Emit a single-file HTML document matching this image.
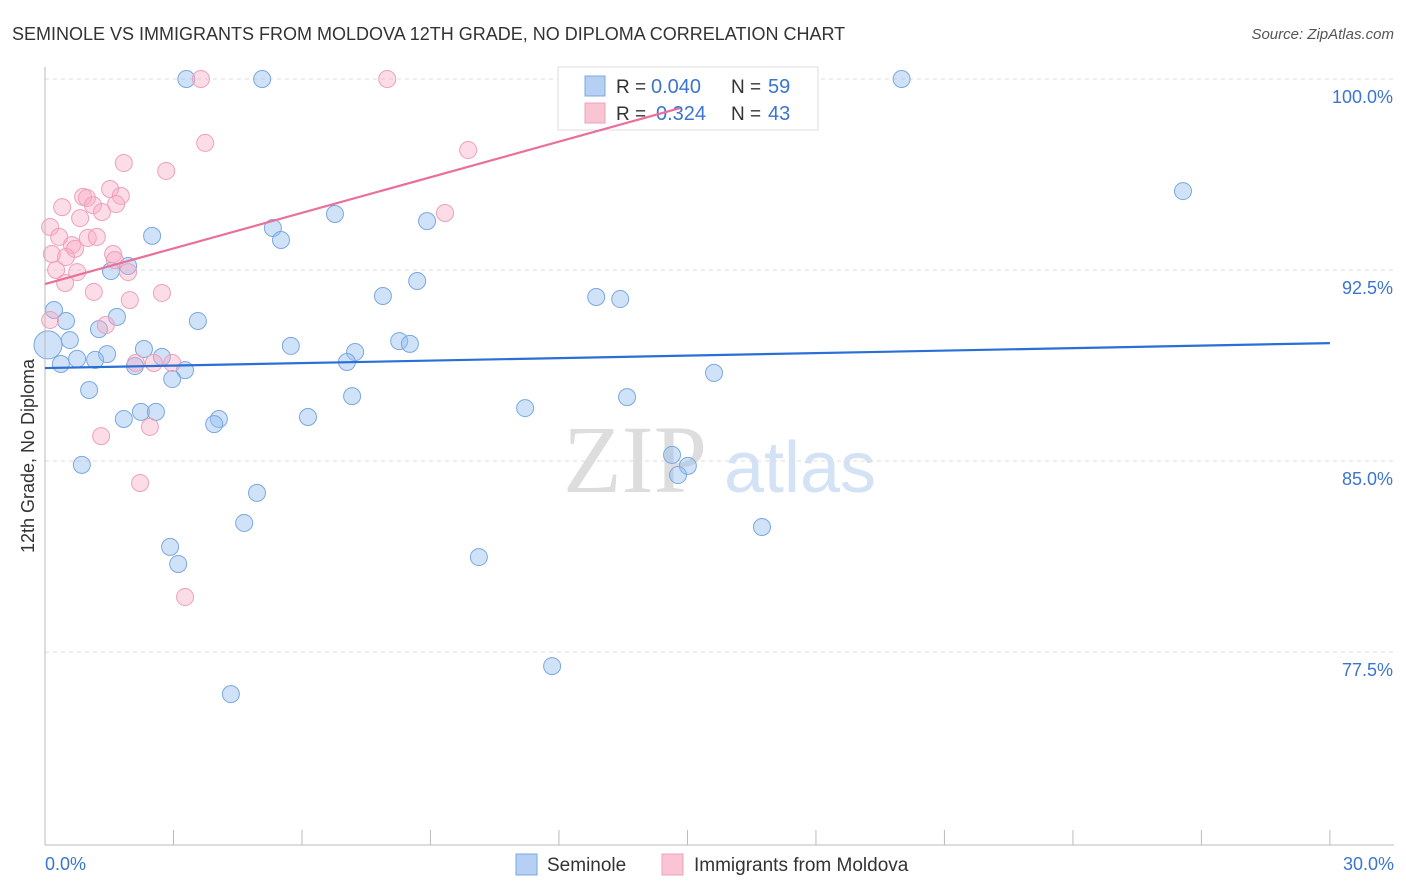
<!DOCTYPE html>
<html><head><meta charset="utf-8"><style>
body{margin:0;background:#fff;font-family:"Liberation Sans",sans-serif;}
#wrap{position:relative;width:1406px;height:892px;overflow:hidden;}
</style></head><body>
<div id="wrap">
<svg id="svg" width="1406" height="892" xmlns="http://www.w3.org/2000/svg">
<text x="12" y="40" font-size="18" fill="#333">SEMINOLE VS IMMIGRANTS FROM MOLDOVA 12TH GRADE, NO DIPLOMA CORRELATION CHART</text>
<text x="1394" y="39" font-size="15" fill="#555" font-style="italic" text-anchor="end">Source: ZipAtlas.com</text>
<text x="34" y="456" font-size="18" fill="#333" text-anchor="middle" transform="rotate(-90 34 456)">12th Grade, No Diploma</text>
<text x="635" y="492" font-size="96" fill="#ddd" font-family="Liberation Serif,serif" text-anchor="middle">ZIP</text>
<text x="800" y="492" font-size="72" fill="#d4e2f5" text-anchor="middle">atlas</text>
<g id="grid"></g><g id="pts"></g>
<line x1="45" y1="67" x2="45" y2="845" stroke="#bbb"/>
<line x1="45" y1="845" x2="1394" y2="845" stroke="#bbb"/>
<text x="45" y="870" font-size="18" fill="#3a75d0">0.0%</text>
<text x="1394" y="870" font-size="18" fill="#3a75d0" text-anchor="end">30.0%</text>
<g>
<rect x="558" y="67" width="260" height="63" fill="#fff" stroke="#ddd"/>
<rect x="585" y="76" width="20" height="20" fill="#b5d0f3" stroke="#7aa8e0"/>
<rect x="585" y="103" width="20" height="20" fill="#f9c5d5" stroke="#eea0b8"/>
<text x="616" y="93" font-size="19" fill="#333">R =</text>
<text x="651" y="93" font-size="20" fill="#3a75d0">0.040</text>
<text x="731" y="93" font-size="19" fill="#333">N =</text>
<text x="768" y="93" font-size="20" fill="#3a75d0">59</text>
<text x="616" y="120" font-size="19" fill="#333">R =</text>
<text x="656" y="120" font-size="20" fill="#3a75d0">0.324</text>
<text x="731" y="120" font-size="19" fill="#333">N =</text>
<text x="768" y="120" font-size="20" fill="#3a75d0">43</text>
</g>
<g id="lines"></g>
<g>
<rect x="516" y="854" width="21" height="21" fill="#b5d0f3" stroke="#7aa8e0"/>
<text x="547" y="871" font-size="19" fill="#333">Seminole</text>
<rect x="662" y="854" width="21" height="21" fill="#f9c5d5" stroke="#eea0b8"/>
<text x="694" y="871" font-size="19" fill="#333">Immigrants from Moldova</text>
</g>
</svg></div>
<script>
const yTicks=[100,92.5,85,77.5];
const yTickLabels=["100.0%","92.5%","85.0%","77.5%"];
const xTicks=[0,3,6,9,12,15,18,21,24,27,30];
const blueX=[3.3,5.07,20.0,26.57,6.77,8.92,5.32,5.51,2.5,1.94,1.54,8.69,7.89,12.87,13.43,0.21,3.57,0.49,1.68,1.26,0.58,8.27,8.52,5.74,2.31,7.24,1.45,2.73,0.75,1.17,0.37,7.05,2.1,3.27,2.97,15.62,1.03,7.17,13.59,11.21,2.24,2.59,1.84,4.06,6.14,3.95,14.64,15.01,14.78,0.86,4.95,4.65,16.74,2.92,10.13,3.11,11.84,4.34];
const blueY=[100,100,100,95.6,94.7,94.42,94.15,93.68,93.84,92.66,92.46,92.07,91.48,91.44,91.36,90.93,90.5,90.5,90.66,90.18,89.75,89.71,89.6,89.52,89.4,89.28,89.2,89.09,89.01,88.97,88.81,88.89,88.73,88.57,88.22,88.46,87.79,87.55,87.51,87.08,86.93,86.93,86.65,86.65,86.73,86.45,85.24,84.81,84.45,84.85,83.75,82.57,82.41,81.63,81.23,80.96,76.95,75.85];
const pinkX=[3.64,7.99,13.68,3.74,9.88,1.84,2.83,1.52,0.89,0.98,1.77,0.4,1.12,1.66,1.33,9.34,0.82,0.12,0.33,1.0,1.21,0.63,0.7,0.16,1.59,0.49,1.63,0.26,0.75,1.94,1.14,0.47,2.73,1.98,1.42,0.12,2.12,2.54,2.97,1.31,2.45,2.22,3.27];
const pinkY=[100,100,100,97.49,97.21,96.7,96.39,95.68,95.37,95.33,95.41,94.97,95.05,95.09,94.78,94.74,94.54,94.19,93.8,93.76,93.8,93.48,93.33,93.13,93.13,93.01,92.89,92.5,92.42,92.42,91.64,91.99,91.6,91.32,90.34,90.54,88.85,88.85,88.85,85.98,86.34,84.14,79.66];
const blueTrend=[[0,88.65],[30,89.63]];
const pinkTrend=[[0,91.95],[14.83,98.86]];
const NS="http://www.w3.org/2000/svg";
const sx=v=>45+v*42.83, sy=v=>79+(100-v)*25.47;
function mk(tag,a,parent){const e=document.createElementNS(NS,tag);for(const k in a)e.setAttribute(k,a[k]);parent.appendChild(e);return e;}
const grid=document.getElementById('grid'),pts=document.getElementById('pts'),lines=document.getElementById('lines');
yTicks.forEach((t,i)=>{
 const l=mk('line',{x1:45,x2:1394,y1:sy(t),y2:sy(t),stroke:'#ddd','stroke-dasharray':'4,4'},grid);
 
 
 const tx=mk('text',{x:1393,y:sy(t)+24,'font-size':18,fill:'#3a75d0','text-anchor':'end'},grid);
 tx.textContent=yTickLabels[i];
 
 
});
xTicks.forEach(t=>{
 const l=mk('line',{x1:sx(t),x2:sx(t),y1:830,y2:845,stroke:'#bbb'},grid);
 
 
});
blueX.forEach((x,i)=>{
 const c=mk('circle',{cx:sx(x),cy:sy(blueY[i]),r:8.5,fill:'rgba(150,190,240,0.45)',stroke:'#7aa8e0','stroke-width':1},pts);
 
 
});
const big=mk('circle',{cx:sx(0.07),cy:sy(89.56),r:14,fill:'rgba(150,190,240,0.45)',stroke:'#7aa8e0'},pts);


pinkX.forEach((x,i)=>{
 const c=mk('circle',{cx:sx(x),cy:sy(pinkY[i]),r:8.5,fill:'rgba(247,170,195,0.4)',stroke:'#eea0b8','stroke-width':1},pts);
 
 
});
const bl=mk('line',{x1:sx(blueTrend[0][0]),y1:sy(blueTrend[0][1]),x2:sx(blueTrend[1][0]),y2:sy(blueTrend[1][1]),stroke:'#2a6fd6','stroke-width':2.2},lines);


const pl=mk('line',{x1:sx(pinkTrend[0][0]),y1:sy(pinkTrend[0][1]),x2:sx(pinkTrend[1][0]),y2:sy(pinkTrend[1][1]),stroke:'#e8709a','stroke-width':2.2},lines);


</script>
</body></html>
